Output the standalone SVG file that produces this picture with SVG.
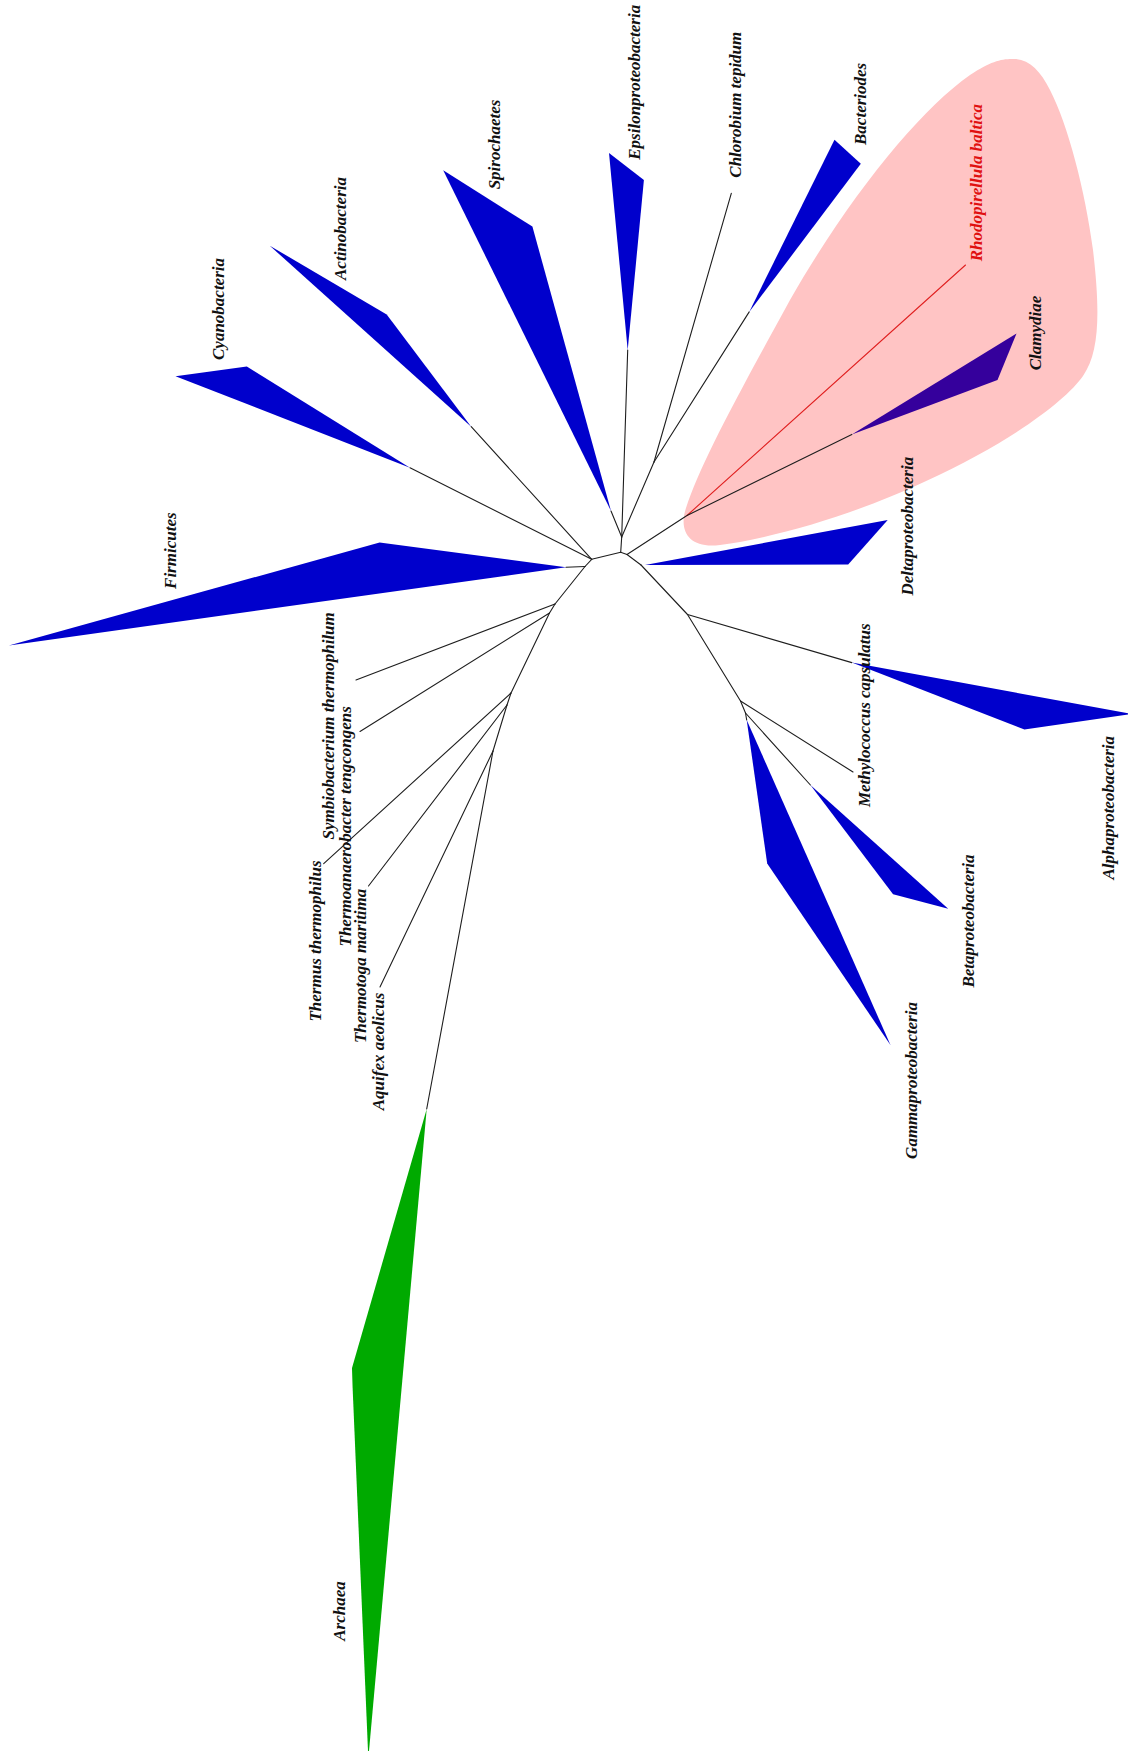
<svg xmlns="http://www.w3.org/2000/svg" width="1128" height="1751" viewBox="0 0 1128 1751">
<style>
.e{stroke:#1e1e1e;stroke-width:1.1;fill:none;stroke-linecap:round}
.red{stroke:#e02020}
.c{fill:#0000cc}
.g{fill:#00aa00}
.lbl{font-family:"Liberation Serif","Times New Roman",serif;font-style:italic;font-weight:bold;font-size:17px;fill:#111;text-anchor:middle}
</style>
<rect width="1128" height="1751" fill="#ffffff"/>
<path id="highlight" fill="#ffc4c4" d="M1012,59 C1028,58 1040,70 1050,90 C1068,125 1085,190 1093,250 C1100,310 1100,352 1083,376 C1066,400 1015,440 924,482 C860,512 780,537 720,545 C690,549 678,532 686,508 C700,465 735,400 790,300 C850,195 920,110 970,75 C990,62 1000,59 1012,59 Z"/>
<g id="connectors">
<path class="e" d="M620.7,552.3 L621.7,537"/>
<path class="e" d="M621.7,537 L611,511"/>
<path class="e" d="M621.7,537 L627.7,350"/>
<path class="e" d="M621.7,537 L654,462"/>
<path class="e" d="M654,462 L731.3,193.3"/>
<path class="e" d="M654,462 L749.2,311.9"/>
<path class="e" d="M620.7,552.3 L591.7,559.3"/>
<path class="e" d="M620.7,552.3 L627,554.5"/>
<path class="e" d="M627,554.5 L687,515.5"/>
<path class="e red" d="M687,515.5 L965.5,265"/>
<path class="e" d="M687,515.5 L851.8,434.4"/>
<path class="e" d="M627,554.5 L641,565"/>
<path class="e" d="M641,565 L687.5,614.5"/>
<path class="e" d="M687.5,614.5 L851.8,662.6"/>
<path class="e" d="M687.5,614.5 L740.5,701"/>
<path class="e" d="M740.5,701 L853,772"/>
<path class="e" d="M740.5,701 L745.5,713"/>
<path class="e" d="M745.5,713 L810.4,785"/>
<path class="e" d="M745.5,713 L746.7,720"/>
<path class="e" d="M591.7,559.3 L410,467.7"/>
<path class="e" d="M591.7,559.3 L471.2,426.7"/>
<path class="e" d="M591.7,559.3 L585,566.5"/>
<path class="e" d="M585,566.5 L566,567.3"/>
<path class="e" d="M585,566.5 L555,604"/>
<path class="e" d="M555,604 L356,680"/>
<path class="e" d="M555,604 L549.5,613"/>
<path class="e" d="M549.5,613 L360,731.5"/>
<path class="e" d="M549.5,613 L511,693"/>
<path class="e" d="M511,693 L323.7,863.6"/>
<path class="e" d="M511,693 L507,705"/>
<path class="e" d="M507,705 L368.5,886"/>
<path class="e" d="M507,705 L493,751"/>
<path class="e" d="M493,751 L380,987"/>
<path class="e" d="M493,751 L426.7,1109"/>
</g>
<g id="firmicutes"><polygon class="c" points="8.9,645.5 379.6,542.5 566,567.3"/><text class="lbl" transform="translate(175.5,550.7) rotate(-90)">Firmicutes</text></g>
<g id="cyanobacteria"><polygon class="c" points="175.5,376.2 246.8,366.6 410,467.7"/><text class="lbl" transform="translate(224,309) rotate(-90)">Cyanobacteria</text></g>
<g id="actinobacteria"><polygon class="c" points="269.8,245.7 386.7,314.6 471.2,426.7"/><text class="lbl" transform="translate(346,228.5) rotate(-90)">Actinobacteria</text></g>
<g id="spirochaetes"><polygon class="c" points="443.2,170.3 532.4,226.6 611,511"/><text class="lbl" transform="translate(500,144.5) rotate(-90)">Spirochaetes</text></g>
<g id="epsilonproteobacteria"><polygon class="c" points="609,153.1 643.9,179.9 627.7,350"/><text class="lbl" transform="translate(639.5,82.3) rotate(-90)">Epsilonproteobacteria</text></g>
<g id="chlorobium"><text class="lbl" transform="translate(740.5,104.7) rotate(-90)">Chlorobium tepidum</text></g>
<g id="bacteriodes"><polygon class="c" points="749.2,311.9 834.5,139.7 860.8,163.8"/><text class="lbl" transform="translate(866,103.9) rotate(-90)">Bacteriodes</text></g>
<g id="rhodopirellula"><text class="lbl" style="fill:#e01010" transform="translate(982,182.7) rotate(-90)">Rhodopirellula baltica</text></g>
<g id="clamydiae"><polygon fill="#35009c" points="851.8,434.4 1016.5,333.6 997.5,380"/><text class="lbl" transform="translate(1040.5,333) rotate(-90)">Clamydiae</text></g>
<g id="deltaproteobacteria"><polygon class="c" points="645,565 887.7,519.9 848.2,564.5"/><text class="lbl" transform="translate(913,526.2) rotate(-90)">Deltaproteobacteria</text></g>
<g id="alphaproteobacteria"><polygon class="c" points="851.8,662.6 1132,714 1024.4,729.6"/><text class="lbl" transform="translate(1113.5,807.7) rotate(-90)">Alphaproteobacteria</text></g>
<g id="methylococcus"><text class="lbl" transform="translate(870,715.2) rotate(-90)">Methylococcus capsulatus</text></g>
<g id="betaproteobacteria"><polygon class="c" points="810.4,785 893.1,894.2 948.2,908.7"/><text class="lbl" transform="translate(974,921) rotate(-90)">Betaproteobacteria</text></g>
<g id="gammaproteobacteria"><polygon class="c" points="746.7,720 767.2,863.6 890.6,1045.3"/><text class="lbl" transform="translate(916.5,1080.5) rotate(-90)">Gammaproteobacteria</text></g>
<g id="symbiobacterium"><text class="lbl" transform="translate(333.5,725.8) rotate(-90)">Symbiobacterium thermophilum</text></g>
<g id="thermoanaerobacter"><text class="lbl" transform="translate(350.5,826.3) rotate(-90)">Thermoanaerobacter tengcongens</text></g>
<g id="thermus"><text class="lbl" transform="translate(321,941) rotate(-90)">Thermus thermophilus</text></g>
<g id="thermotoga"><text class="lbl" transform="translate(366,965.9) rotate(-90)">Thermotoga maritima</text></g>
<g id="aquifex"><text class="lbl" transform="translate(384,1051.5) rotate(-90)">Aquifex aeolicus</text></g>
<g id="archaea"><polygon class="g" points="426.7,1109 352,1368 352.5,1385 368,1751 369,1751"/><text class="lbl" transform="translate(344.5,1611) rotate(-90)">Archaea</text></g>
</svg>
